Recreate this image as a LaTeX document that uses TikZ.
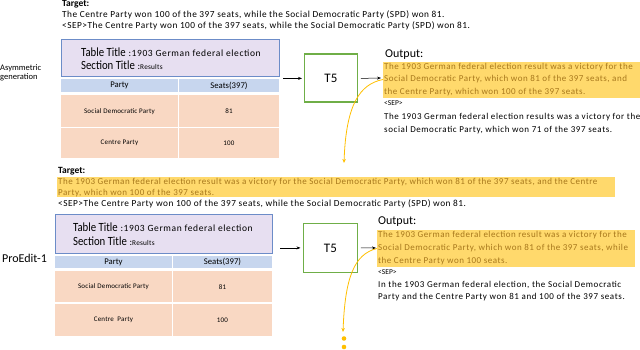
\documentclass[tikz,border=0pt]{standalone}
\usepackage{fontspec}
\setmainfont{Carlito}
\usetikzlibrary{arrows.meta}
\definecolor{purp}{HTML}{E7DFF1}
\definecolor{purpb}{HTML}{6C8CC8}
\definecolor{hdr}{HTML}{C7D6EE}
\definecolor{rowc}{HTML}{F9D8C3}
\definecolor{hlfill}{HTML}{FFD96C}
\definecolor{hltext}{HTML}{A8781C}
\definecolor{tgreen}{HTML}{6FAE47}
\definecolor{oarrow}{HTML}{FFBF00}
\tikzset{
  ln/.style={anchor=west, inner sep=0pt, font=\fontsize{9}{10}\selectfont\addfontfeatures{LetterSpace=6.5}},
  wln/.style={anchor=west, inner sep=0pt, font=\fontsize{9.3}{10}\selectfont\addfontfeatures{LetterSpace=5.5}},
  hln/.style={anchor=west, inner sep=0pt, text=hltext, font=\fontsize{9}{10}\selectfont\addfontfeatures{LetterSpace=5.7}},
  seplbl/.style={anchor=west, inner sep=0pt, font=\fontsize{7.5}{9}\selectfont},
  lbl/.style={anchor=west, inner sep=0pt, font=\fontsize{9.5}{10}\selectfont\bfseries},
  purpbox/.style={draw=purpb, line width=0.6pt, fill=purp, inner sep=0pt},
  hdrcell/.style={fill=hdr, inner sep=0pt, font=\fontsize{8.7}{10}\selectfont},
  rowcell/.style={fill=rowc, inner sep=0pt, font=\fontsize{7}{8}\selectfont\addfontfeatures{LetterSpace=3}},
  tfive/.style={draw=tgreen, line width=1.8pt, fill=white, inner sep=0pt, font=\fontsize{13}{14}\selectfont},
  arr/.style={-{Stealth[length=4pt,width=3pt]}, line width=0.5pt},
  oarr/.style={-{Stealth[length=4pt,width=3.5pt]}, draw=oarrow, line width=0.8pt},
  hlbox/.style={fill=hlfill, draw=none, inner sep=0pt},
  ttl/.style={anchor=west, inner sep=0pt},
  outlbl/.style={anchor=west, inner sep=0pt, font=\fontsize{12}{13}\selectfont},
  sidelbl/.style={anchor=west, inner sep=0pt},
  groupbox/.style={draw=none, inner sep=0pt}
}
\newcommand{\tabtitle}[1]{\scalebox{0.86}[1]{\fontsize{12.5}{13}\selectfont#1}}
\newcommand{\tabval}[1]{{\fontsize{9.5}{10}\selectfont\addfontfeatures{LetterSpace=6.5}#1}}
\newcommand{\tabsmall}[1]{{\fontsize{7.3}{8}\selectfont\addfontfeatures{LetterSpace=3}#1}}
\begin{document}
\begin{tikzpicture}[x=1pt,y=-1pt]
\useasboundingbox (0,0) rectangle (640,350);

% ---------- top target ----------
\node[lbl] (tg1) at (62,4.5) {Target:};
\node[wln] (tg1a) at (62,15) {The Centre Party won 100 of the 397 seats, while the Social Democratic Party (SPD) won 81.};
\node[wln] (tg1b) at (62,26) {<SEP>The Centre Party won 100 of the 397 seats, while the Social Democratic Party (SPD) won 81.};

% ---------- block 1 ----------
\node[sidelbl, align=left, font=\fontsize{8.5}{9}\selectfont] (asym) at (0,73) {Asymmetric\\generation};
\node[purpbox, minimum width=218pt, minimum height=37pt, anchor=north west] (p1) at (61,39) {};
\node[ttl] (p1a) at (81,52) {\tabtitle{Table Title}\tabval{\ :1903 German federal election}};
\node[ttl] (p1b) at (81,65.5) {\tabtitle{Section Title}\tabval{\ :}\tabsmall{Results}};
\node[hdrcell, minimum width=116.5pt, minimum height=13pt, anchor=north west] (h1a) at (61,79) {Party};
\node[hdrcell, minimum width=100.5pt, minimum height=13pt, anchor=north west] (h1b) at (178.5,79) {Seats(397)};
\node[rowcell, minimum width=116.5pt, minimum height=32pt, anchor=north west] (r1a) at (61,95) {Social Democratic Party};
\node[rowcell, minimum width=100.5pt, minimum height=32pt, anchor=north west] (r1b) at (178.5,95) {81};
\node[rowcell, minimum width=116.5pt, minimum height=30pt, anchor=north west] (r1c) at (61,128) {Centre Party};
\node[rowcell, minimum width=100.5pt, minimum height=30pt, anchor=north west] (r1d) at (178.5,128) {100};
\node[groupbox, minimum width=218pt, minimum height=119pt, anchor=north west] (tab1) at (61,39) {};

\node[tfive, minimum width=53pt, minimum height=48pt, anchor=north west] (t51) at (303.5,53.5) {T5};
\draw[arr] ([xshift=4pt]tab1.east |- t51.west) -- ([xshift=-1.5pt]t51.west);
\node[outlbl] (out1) at (385,55) {Output:};
\node[hlbox, minimum width=257pt, minimum height=36pt, anchor=north west] (hl1) at (383,62) {};
\coordinate (o1in) at (381,78);
\draw[arr] ([xshift=2.5pt]t51.east) -- (o1in);
\node[hln] (o1a) at (384,67) {The 1903 German federal election result was a victory for the};
\node[hln] (o1b) at (384,79.5) {Social Democratic Party, which won 81 of the 397 seats, and};
\node[hln] (o1c) at (384,92) {the Centre Party, which won 100 of the 397 seats.};
\node[seplbl] (o1d) at (384,103.5) {<SEP>};
\node[ln] (o1e) at (384,117) {The 1903 German federal election results was a victory for the};
\node[ln] (o1f) at (384,130) {social Democratic Party, which won 71 of the 397 seats.};
\coordinate (c1end) at (344,163);
\draw[oarr] (hl1.west |- o1b) .. controls (360,84) and (346,104) .. (c1end);

% ---------- middle target ----------
\node[lbl] (tg2) at (58,171) {Target:};
\node[hlbox, minimum width=558pt, minimum height=20pt, anchor=north west] (hl2) at (57,177) {};
\node[hln] (tg2a) at (58,182) {The 1903 German federal election result was a victory for the Social Democratic Party, which won 81 of the 397 seats, and the Centre};
\node[hln] (tg2b) at (58,193) {Party, which won 100 of the 397 seats.};
\node[wln] (tg2c) at (58,204) {<SEP>The Centre Party won 100 of the 397 seats, while the Social Democratic Party (SPD) won 81.};

% ---------- block 2 ----------
\node[sidelbl, font=\fontsize{12}{13}\selectfont] (pe) at (2,258) {ProEdit-1};
\node[purpbox, minimum width=217pt, minimum height=39pt, anchor=north west] (p2) at (55,214) {};
\node[ttl] (p2a) at (73,227) {\tabtitle{Table Title}\tabval{\ :1903 German federal election}};
\node[ttl] (p2b) at (73,241) {\tabtitle{Section Title}\tabval{\ :}\tabsmall{Results}};
\node[hdrcell, minimum width=116.5pt, minimum height=12pt, anchor=north west] (h2a) at (55,256) {Party};
\node[hdrcell, minimum width=99.5pt, minimum height=12pt, anchor=north west] (h2b) at (172.5,256) {Seats(397)};
\node[rowcell, minimum width=116.5pt, minimum height=31pt, anchor=north west] (r2a) at (55,271) {Social Democratic Party};
\node[rowcell, minimum width=99.5pt, minimum height=31pt, anchor=north west] (r2b) at (172.5,271) {81};
\node[rowcell, minimum width=116.5pt, minimum height=32pt, anchor=north west] (r2c) at (55,304) {Centre\ \ Party};
\node[rowcell, minimum width=99.5pt, minimum height=32pt, anchor=north west] (r2d) at (172.5,304) {100};
\node[groupbox, minimum width=217pt, minimum height=122pt, anchor=north west] (tab2) at (55,214) {};

\node[tfive, minimum width=54pt, minimum height=49pt, anchor=north west] (t52) at (302.5,222.5) {T5};
\draw[arr] ([xshift=8pt]tab2.east |- t52.west) -- ([xshift=-2pt]t52.west);
\node[outlbl] (out2) at (378,222) {Output:};
\node[hlbox, minimum width=258pt, minimum height=37pt, anchor=north west] (hl2b) at (377,230) {};
\coordinate (o2in) at (376,248);
\draw[arr] ([xshift=2.5pt]t52.east) -- (o2in);
\node[hln] (o2a) at (378,235.5) {The 1903 German federal election result was a victory for the};
\node[hln] (o2b) at (378,248.5) {Social Democratic Party, which won 81 of the 397 seats, while};
\node[hln] (o2c) at (378,261) {the Centre Party won 100 seats.};
\node[seplbl] (o2d) at (378,272.5) {<SEP>};
\node[ln] (o2e) at (378,285) {In the 1903 German federal election, the Social Democratic};
\node[ln] (o2f) at (378,297.5) {Party and the Centre Party won 81 and 100 of the 397 seats.};
\coordinate (c2end) at (343,332);
\draw[oarr] (hl2b.west |- o2b) .. controls (354,254) and (345,278) .. (c2end);
\fill[oarrow] (344,338.5) circle (2.3pt) node[inner sep=0pt] (d1) {};
\fill[oarrow] (344,347) circle (2.3pt) node[inner sep=0pt] (d2) {};
\end{tikzpicture}
\end{document}
